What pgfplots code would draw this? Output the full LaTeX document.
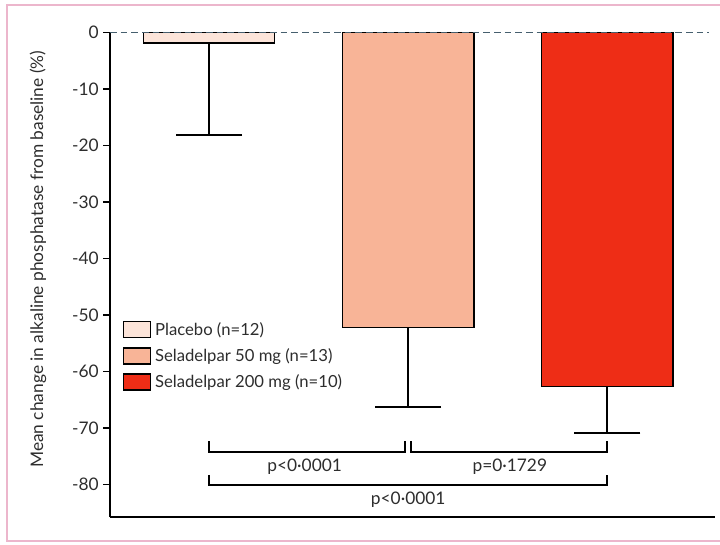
\documentclass[border=0pt]{standalone}
\usepackage{pgfplots}
\pgfplotsset{compat=1.18}
\usepackage{fontspec}
\setmainfont{Lato}
\definecolor{plac}{RGB}{252,228,217}
\definecolor{sel50}{RGB}{248,180,151}
\definecolor{sel200}{RGB}{238,45,22}
\definecolor{frame}{RGB}{236,182,204}
\definecolor{txt}{RGB}{45,45,45}
\definecolor{zero}{RGB}{70,95,110}
\begin{document}
\begin{tikzpicture}
\useasboundingbox (0,0) rectangle (540pt,408pt);
\draw[frame, line width=1.1pt] (5.25pt,2.25pt) rectangle (545pt,404.25pt);
\begin{axis}[
  at={(82.5pt,20.25pt)}, anchor=south west,
  scale only axis, width=453.75pt, height=363.4pt,
  xmin=-0.497, xmax=2.54, ymin=-85.75, ymax=0,
  axis x line=bottom, axis y line=left,
  axis line style={line width=1.5pt, -},
  xtick=\empty,
  ytick={-80,-70,...,0},
  tick align=outside, major tick length=5pt,
  tick style={line width=1.3pt, black},
  /pgf/number format/assume math mode=true,
  tick label style={font=\fontsize{13}{15}\selectfont, text=txt},
  ylabel={Mean change in alkaline phosphatase from baseline (\%)},
  ylabel style={font=\fontsize{13}{15}\selectfont, text=txt, at={(axis description cs:-0.119,0.532)}, anchor=center},
  legend style={draw=none, fill=none, at={(axis description cs:0.021,0.408)}, anchor=north west,
    font=\fontsize{12.5}{14}\selectfont, text=txt, row sep=4.5pt, inner sep=0pt,
    nodes={inner xsep=3pt}},
  legend cell align=left,
  legend image code/.code={\draw[#1, line width=1.1pt, draw=black] (0pt,-6pt) rectangle (20pt,6pt);},
  clip=false,
]
\addplot[ybar, bar shift=0pt, bar width=0.66, fill=plac, draw=black, line width=1.1pt,
  error bars/.cd, y dir=minus, y explicit,
  error bar style={line width=1.5pt, black},
  error mark options={rotate=90, line width=1.5pt, mark size=24.75pt, black}]
  coordinates {(0,-1.86) -= (0,16.24)};
\addlegendentry{Placebo (n=12)}
\addplot[ybar, bar shift=0pt, bar width=0.66, fill=sel50, draw=black, line width=1.1pt,
  error bars/.cd, y dir=minus, y explicit,
  error bar style={line width=1.5pt, black},
  error mark options={rotate=90, line width=1.5pt, mark size=24.75pt, black}]
  coordinates {(1,-52.2) -= (0,14.1)};
\addlegendentry{Seladelpar 50 mg (n=13)}
\addplot[ybar, bar shift=0pt, bar width=0.66, fill=sel200, draw=black, line width=1.1pt,
  error bars/.cd, y dir=minus, y explicit,
  error bar style={line width=1.5pt, black},
  error mark options={rotate=90, line width=1.5pt, mark size=24.75pt, black}]
  coordinates {(2,-62.7) -= (0,8.1)};
\addlegendentry{Seladelpar 200 mg (n=10)}
% zero line
\addplot[forget plot, zero, line width=1pt, dash pattern=on 5pt off 3pt] coordinates {(-0.497,0) (2.51,0)};
% brackets
\addplot[forget plot, black, line width=1.5pt] coordinates {(0,-72.3) (0,-74.2) (0.985,-74.2) (0.985,-72.3)};
\addplot[forget plot, black, line width=1.5pt] coordinates {(1.015,-72.3) (1.015,-74.2) (2,-74.2) (2,-72.3)};
\addplot[forget plot, black, line width=1.5pt] coordinates {(0,-78.3) (0,-80.1) (2,-80.1) (2,-78.3)};
\node[font=\fontsize{13}{15}\selectfont, text=txt] at (axis cs:0.48,-76.9) {p<0·0001};
\node[font=\fontsize{13}{15}\selectfont, text=txt] at (axis cs:1.51,-76.9) {p=0·1729};
\node[font=\fontsize{13}{15}\selectfont, text=txt] at (axis cs:1.0,-82.7) {p<0·0001};
\end{axis}
\end{tikzpicture}
\end{document}
